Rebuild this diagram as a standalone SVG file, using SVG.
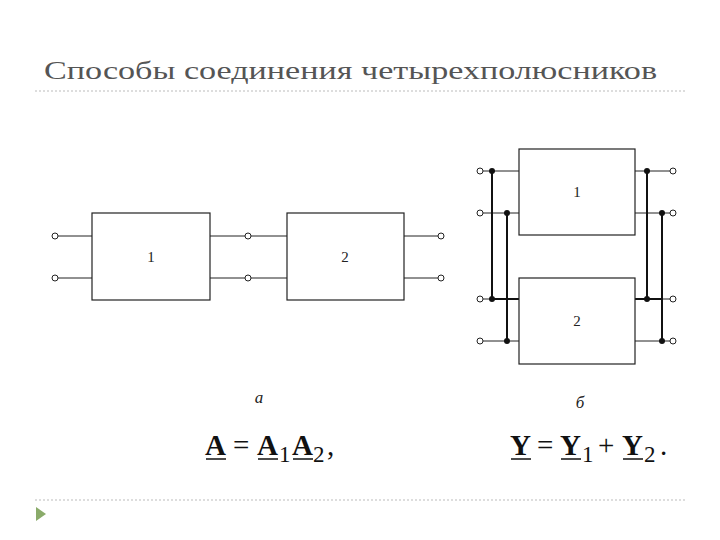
<svg xmlns="http://www.w3.org/2000/svg" width="720" height="540" viewBox="0 0 720 540">
<style>
.b{fill:#fff;stroke:#222;stroke-width:1.2}
.w{stroke:#222;stroke-width:1;fill:none}
.wt{stroke:#111;stroke-width:2;fill:none}
.o{fill:#fff;stroke:#222;stroke-width:1}
.d{fill:#111}
.t{font-family:"Liberation Serif",serif;fill:#222}
.m{font-family:"Liberation Serif",serif;fill:#111;font-size:29px}
.s{font-family:"Liberation Serif",serif;fill:#111;font-size:23px}
.bd{font-weight:bold}
.u{stroke:#111;stroke-width:1.5}
</style>
<rect width="720" height="540" fill="#fff"/>
<text x="44" y="79" font-family="Liberation Serif,serif" font-size="26" fill="#555" textLength="613" lengthAdjust="spacingAndGlyphs">Способы соединения четырехполюсников</text>
<line x1="35" y1="91" x2="685" y2="91" stroke="#bbb" stroke-dasharray="2,2"/>
<line x1="35" y1="500" x2="685" y2="500" stroke="#bbb" stroke-dasharray="2,2"/>
<polygon points="36,507 36,521 46,514" fill="#8aab6a"/>
<g id="connectors">
<path class="w" d="M58,236H92M58,278H92M210,236H245M210,278H245M251,236H287M251,278H287M404,236H438M404,278H438"/>
<path class="w" d="M483,171H519M483,213H519M483,299H519M483,341H519M635,171H670M635,213H670M635,299H670M635,341H670"/>
<path class="wt" d="M492,171V299M507,213V341M647,171V299M662,213V341M492,299H519M635,299H662"/>
</g>
<g id="n1"><rect class="b" x="92" y="213" width="118" height="87"/><text class="t" x="151" y="262" font-size="15" text-anchor="middle">1</text></g>
<g id="n2"><rect class="b" x="287" y="213" width="117" height="87"/><text class="t" x="345" y="262" font-size="15" text-anchor="middle">2</text></g>
<g id="n3"><rect class="b" x="519" y="149" width="116" height="86"/><text class="t" x="577" y="197" font-size="15" text-anchor="middle">1</text></g>
<g id="n4"><rect class="b" x="519" y="278" width="116" height="86"/><text class="t" x="577" y="326" font-size="15" text-anchor="middle">2</text></g>
<g id="terminals">
<circle class="o" cx="55" cy="236" r="3"/><circle class="o" cx="55" cy="278" r="3"/>
<circle class="o" cx="248" cy="236" r="3"/><circle class="o" cx="248" cy="278" r="3"/>
<circle class="o" cx="441" cy="236" r="3"/><circle class="o" cx="441" cy="278" r="3"/>
<circle class="o" cx="480" cy="171" r="3"/><circle class="o" cx="480" cy="213" r="3"/><circle class="o" cx="480" cy="299" r="3"/><circle class="o" cx="480" cy="341" r="3"/>
<circle class="o" cx="673" cy="171" r="3"/><circle class="o" cx="673" cy="213" r="3"/><circle class="o" cx="673" cy="299" r="3"/><circle class="o" cx="673" cy="341" r="3"/>
<circle class="d" cx="492" cy="171" r="3"/><circle class="d" cx="507" cy="213" r="3"/><circle class="d" cx="492" cy="299" r="3"/><circle class="d" cx="507" cy="341" r="3"/>
<circle class="d" cx="647" cy="171" r="3"/><circle class="d" cx="662" cy="213" r="3"/><circle class="d" cx="647" cy="299" r="3"/><circle class="d" cx="662" cy="341" r="3"/>
</g>
<text class="t" x="259" y="403" font-size="17" font-style="italic" text-anchor="middle">a</text>
<text class="t" x="580" y="408" font-size="17" font-style="italic" text-anchor="middle">б</text>
<g id="formula-a">
<text class="m bd" x="205" y="455">A</text><text class="m" x="233" y="455">=</text><text class="m bd" x="257" y="455">A</text><text class="s" x="279" y="462">1</text><text class="m bd" x="292" y="455">A</text><text class="s" x="313" y="462">2</text><text class="m" x="327" y="455">,</text>
<line class="u" x1="206" y1="459" x2="226" y2="459"/><line class="u" x1="258" y1="459" x2="278" y2="459"/><line class="u" x1="293" y1="459" x2="313" y2="459"/>
</g>
<g id="formula-b">
<text class="m bd" x="510" y="455">Y</text><text class="m" x="537" y="455">=</text><text class="m bd" x="560" y="455">Y</text><text class="s" x="582" y="462">1</text><text class="m" x="598" y="455">+</text><text class="m bd" x="622" y="455">Y</text><text class="s" x="644" y="462">2</text><text class="m" x="660" y="455">.</text>
<line class="u" x1="511" y1="459" x2="531" y2="459"/><line class="u" x1="561" y1="459" x2="581" y2="459"/><line class="u" x1="623" y1="459" x2="643" y2="459"/>
</g>
</svg>
